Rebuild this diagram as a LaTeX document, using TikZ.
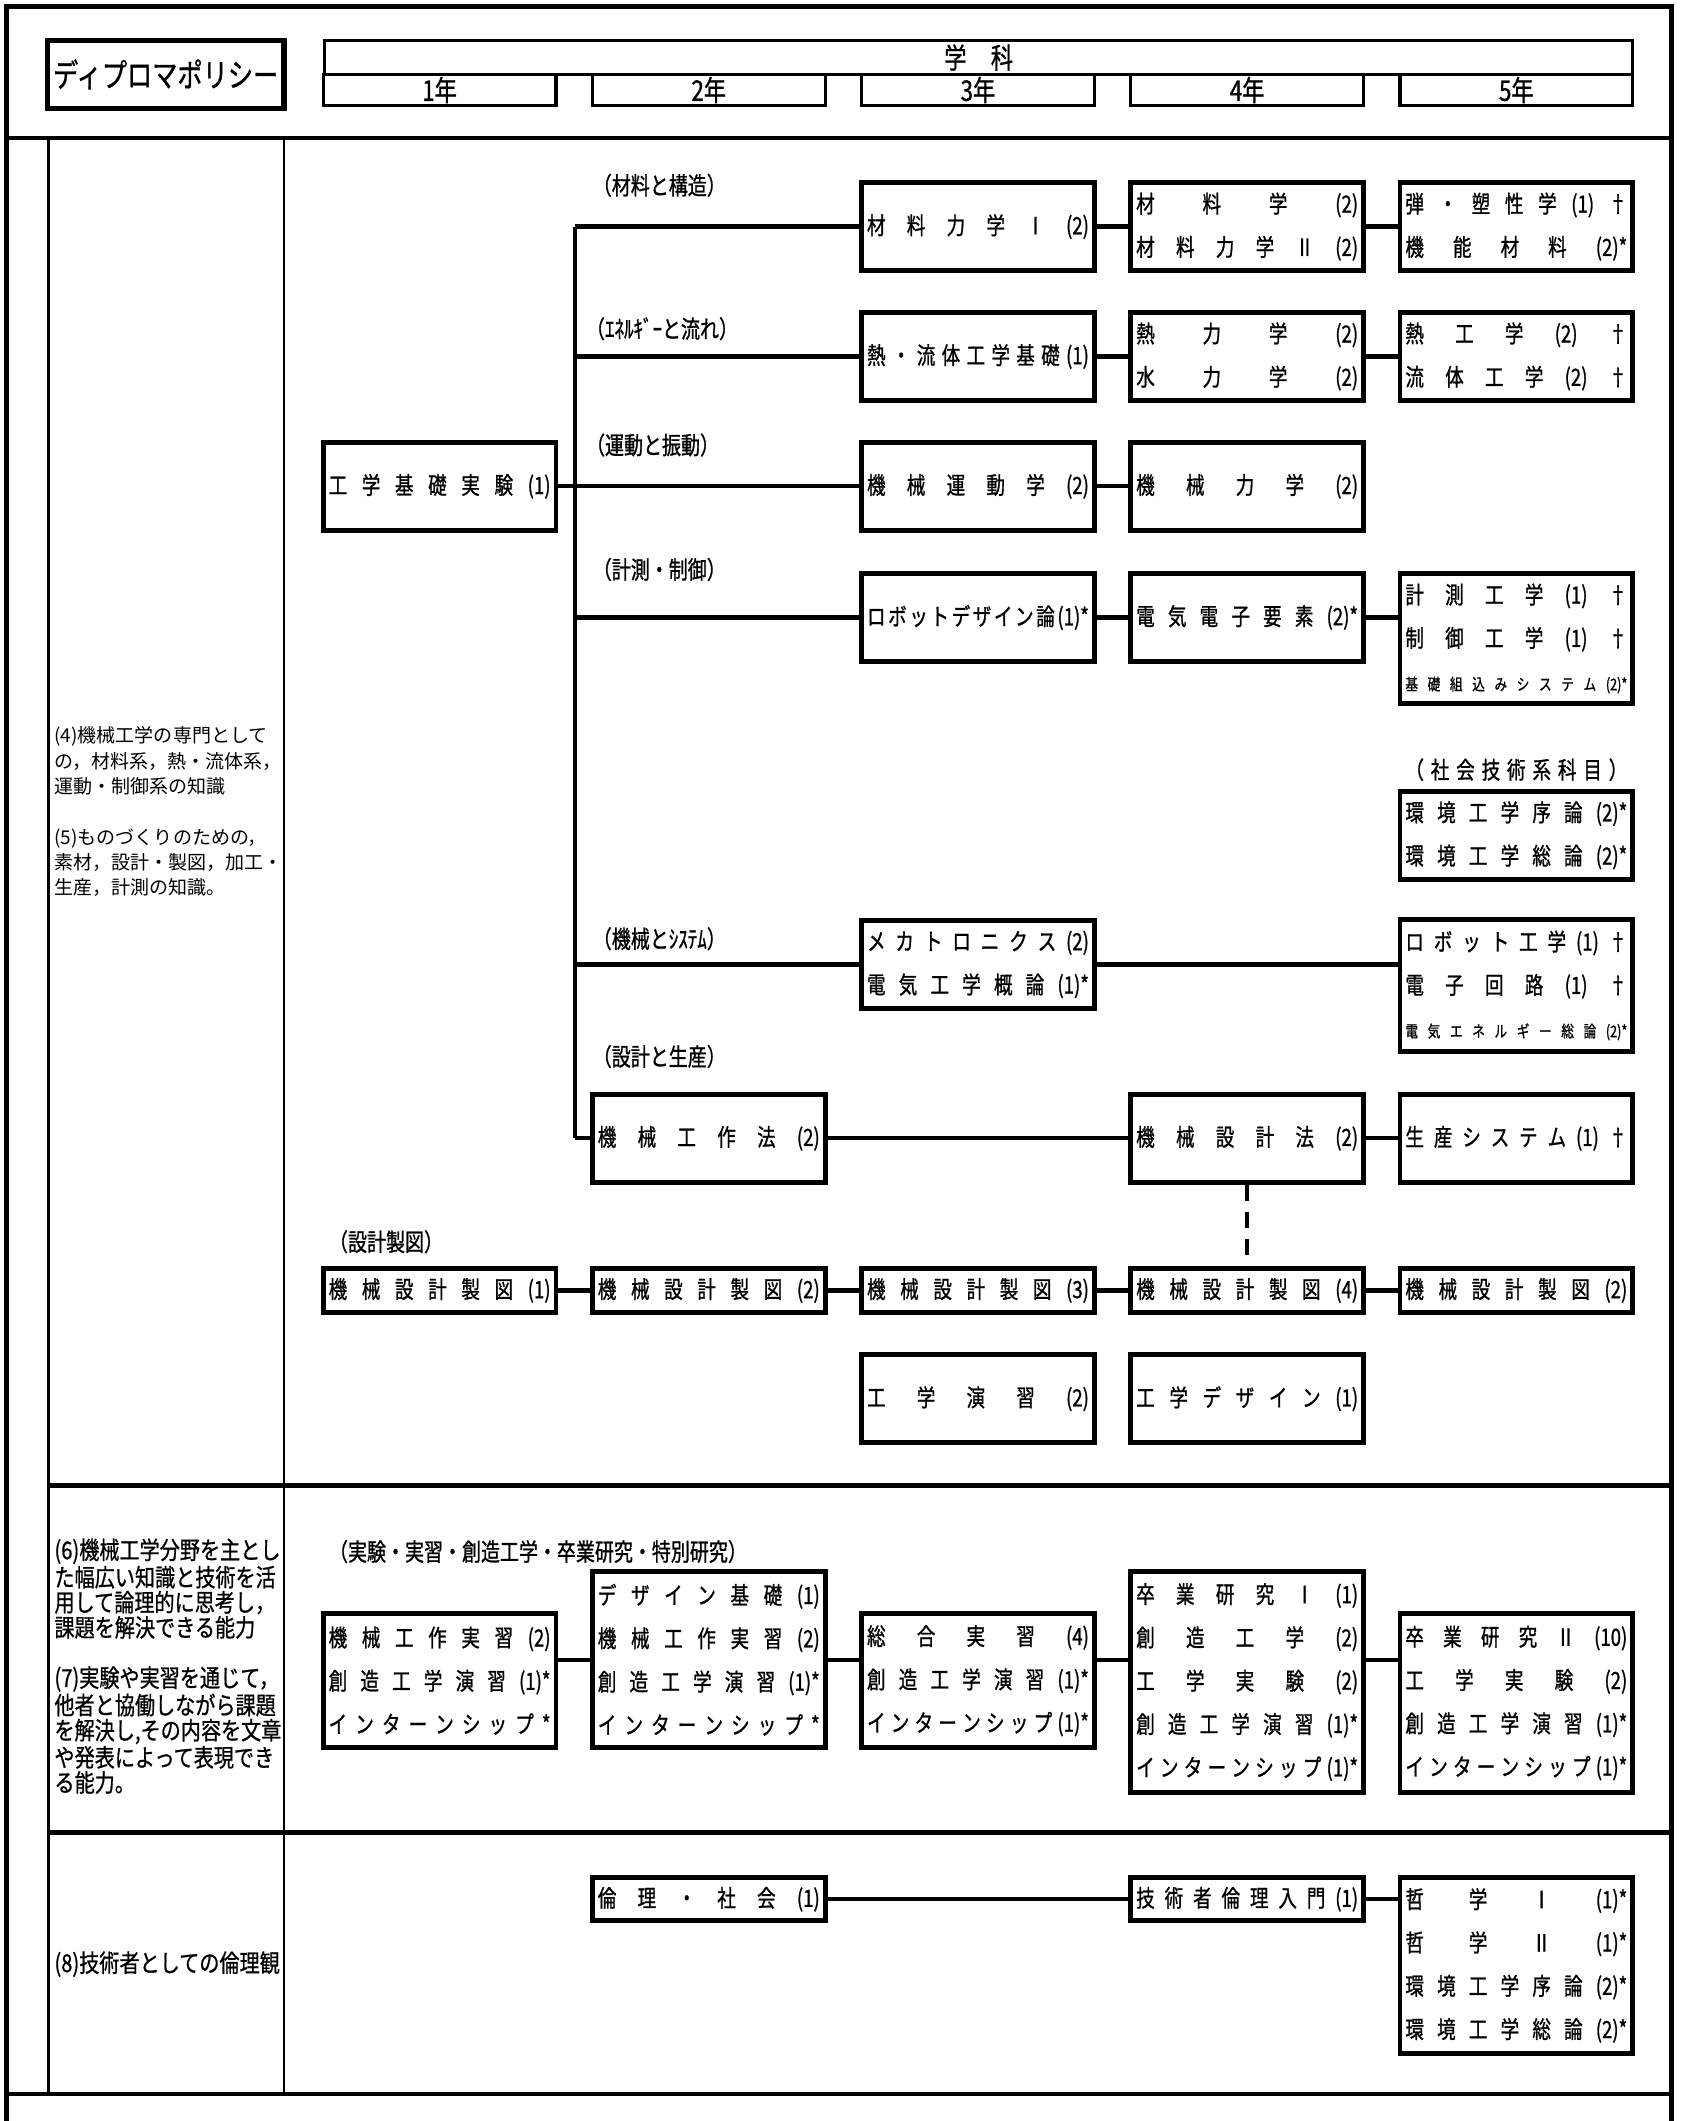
\documentclass[tikz,border=0pt]{standalone}
\usepackage{fontspec}
\newfontfamily\jpn{Noto Sans CJK JP}
\newfontfamily\jpnc[FakeStretch=0.78,FakeBold=1]{Noto Sans CJK JP}
\newfontfamily\jpnm[FakeStretch=0.82,FakeBold=0.8]{Noto Sans CJK JP}
\newcommand\kamokufont{\jpnc\fontsize{12.5}{22.76}\selectfont}
\newcommand\minifont{\fontsize{8.5}{10}\selectfont}
\newcommand\kamoku[1]{\makebox[4.1cm][s]{\spaceskip=0.01pt plus 1fil\relax #1}}
\setlength\parindent{0pt}

\begin{document}
\begin{tikzpicture}[x=0.025cm, y=-0.025cm,
  course/.style={draw, line width=2.6pt, minimum width=4.3cm, text width=4.1cm,
    inner xsep=0.1cm, inner ysep=0pt, align=left, font=\kamokufont},
  tall/.style={minimum height=1.625cm},
  flat/.style={minimum height=0.8cm},
  area/.style={anchor=west, inner sep=0pt, font=\jpnc\fontsize{12.8}{15}\selectfont},
  link/.style={line width=2.2pt},
  policy/.style={anchor=north west, inner sep=0pt, align=left},
  outline/.style={line width=2.6pt},
  gridline/.style={line width=1.3pt},
  yearbox/.style={draw, line width=1.6pt, inner sep=0pt, font=\jpnc\fontsize{15}{17}\selectfont}]
  \useasboundingbox (0,0) rectangle (1243,1568);

  % Frame and table rules
  \draw[outline] (5,1568) -- (5,5) -- (1236,5) -- (1236,1568);
  \draw[outline] (5,102) -- (1236,102);
  \draw[outline] (36,1098) -- (1236,1098);
  \draw[outline] (36,1355) -- (1236,1355);
  \draw[outline] (5,1548) -- (1236,1548);
  \draw[gridline] (36,102) -- (36,1548);
  \draw[gridline] (210,102) -- (210,1548);

  % Header
  \node[draw, line width=2.8pt, minimum width=4.375cm, minimum height=1.25cm, inner sep=0pt,
        font=\jpnc\fontsize{17}{18}\selectfont] (dp) at (122.5,55) {ディプロマポリシー};
  \node[yearbox, minimum width=24.175cm, minimum height=0.625cm] (gakka) at (723.5,42.5) {学\hspace{0.45cm}科};
  \foreach \n/\x in {1/325,2/524,3/723,4/922,5/1121}
    \node[yearbox, minimum width=4.3cm, minimum height=0.575cm] (yr\n) at (\x,66.5) {{\n}年};

  % Policies
  \node[policy, font=\jpn\fontsize{10}{13.3}\selectfont] (pol45) at (40,537)
    {(4)機械工学の専門として\\の，材料系，熱・流体系，\\運動・制御系の知識\\[13.3pt]
     (5)ものづくりのための，\\素材，設計・製図，加工・\\生産，計測の知識。};
  \node[policy, font=\jpnm\fontsize{12.9}{13.2}\selectfont] (pol67) at (40,1137)
    {(6)機械工学分野を主とし\\た幅広い知識と技術を活\\用して論理的に思考し，\\課題を解決できる能力\\[13.2pt]
     (7)実験や実習を通じて，\\他者と協働しながら課題\\を解決し,その内容を文章\\や発表によって表現でき\\る能力。};
  \node[anchor=west, inner sep=0pt, font=\jpnm\fontsize{12.9}{14}\selectfont] (pol8) at (40,1452) {(8)技術者としての倫理観};

  % Area labels
  \node[area] (lZai) at (438,137) {（材料と構造）};
  \node[area] (lEne) at (433,243) {（ｴﾈﾙｷﾞｰと流れ）};
  \node[area] (lUnd) at (433,329) {（運動と振動）};
  \node[area] (lKei) at (438,421) {（計測・制御）};
  \node[area] (lSys) at (438,694) {（機械とｼｽﾃﾑ）};
  \node[area] (lSei) at (438,781) {（設計と生産）};
  \node[area] (lZu)  at (243,918) {（設計製図）};
  \node[area] (lJis) at (243,1147) {（実験・実習・創造工学・卒業研究・特別研究）};
  \node[inner sep=0pt, font=\kamokufont] (lSha) at (1121,569) {\kamoku{（ 社 会 技 術 系 科 目 ）}};

  % Row 1: materials
  \node[course, tall] (zai3) at (723,167.5) {\kamoku{材 料 力 学 Ⅰ (2)}};
  \node[course, tall] (zai4) at (922,167.5) {\kamoku{材 料 学 (2)}\\\kamoku{材 料 力 学 Ⅱ (2)}};
  \node[course, tall] (zai5) at (1121,167.5) {\kamoku{弾 ・ 塑 性 学 (1) †}\\\kamoku{機 能 材 料 (2)*}};
  % Row 2: energy and flow
  \node[course, tall] (ene3) at (723,263.5) {\kamoku{熱 ・ 流 体 工 学 基 礎 (1)}};
  \node[course, tall] (ene4) at (922,263.5) {\kamoku{熱 力 学 (2)}\\\kamoku{水 力 学 (2)}};
  \node[course, tall] (ene5) at (1121,263.5) {\kamoku{熱 工 学 (2) †}\\\kamoku{流 体 工 学 (2) †}};
  % Row 3: motion
  \node[course, tall] (kiso) at (325,359.5) {\kamoku{工 学 基 礎 実 験 (1)}};
  \node[course, tall] (und3) at (723,359.5) {\kamoku{機 械 運 動 学 (2)}};
  \node[course, tall] (und4) at (922,359.5) {\kamoku{機 械 力 学 (2)}};
  % Row 4: measurement and control
  \node[course, tall] (kei3) at (723,456.5) {\kamoku{ロ ボ ッ ト デ ザ イ ン 論 (1)*}};
  \node[course, tall] (kei4) at (922,456.5) {\kamoku{電 気 電 子 要 素 (2)*}};
  \node[course, minimum height=2.4cm] (kei5) at (1121,472)
    {\kamoku{計 測 工 学 (1) †}\\\kamoku{制 御 工 学 (1) †}\\\kamoku{\minifont 基 礎 組 込 み シ ス テ ム (2)*}};
  % Social technology
  \node[course, tall] (kan5) at (1121,617.5) {\kamoku{環 境 工 学 序 論 (2)*}\\\kamoku{環 境 工 学 総 論 (2)*}};
  % Row 5: machines and systems
  \node[course, tall] (sys3) at (723,713) {\kamoku{メ カ ト ロ ニ ク ス (2)}\\\kamoku{電 気 工 学 概 論 (1)*}};
  \node[course, minimum height=2.425cm] (sys5) at (1121,728.5)
    {\kamoku{ロ ボ ッ ト 工 学 (1) †}\\\kamoku{電 子 回 路 (1) †}\\\kamoku{\minifont 電 気 エ ネ ル ギ ー 総 論 (2)*}};
  % Row 6: design and production
  \node[course, tall] (sei2) at (524,841.5) {\kamoku{機 械 工 作 法 (2)}};
  \node[course, tall] (sei4) at (922,841.5) {\kamoku{機 械 設 計 法 (2)}};
  \node[course, tall] (sei5) at (1121,841.5) {\kamoku{生 産 シ ス テ ム (1) †}};
  % Row 7: drafting
  \foreach \n/\x/\k in {1/325/1,2/524/2,3/723/3,4/922/4,5/1121/2}
    \node[course, flat] (zu\n) at (\x,954) {\kamoku{機 械 設 計 製 図 ({\k})}};
  \node[course, tall] (ens3) at (723,1034) {\kamoku{工 学 演 習 (2)}};
  \node[course, tall] (des4) at (922,1034) {\kamoku{工 学 デ ザ イ ン (1)}};

  % Experiments and research
  \node[course, minimum height=2.475cm] (jis1) at (325,1242.5)
    {\kamoku{機 械 工 作 実 習 (2)}\\\kamoku{創 造 工 学 演 習 (1)*}\\\kamoku{イ ン タ ー ン シ ッ プ *}};
  \node[course, minimum height=3.25cm] (jis2) at (524,1227)
    {\kamoku{デ ザ イ ン 基 礎 (1)}\\\kamoku{機 械 工 作 実 習 (2)}\\\kamoku{創 造 工 学 演 習 (1)*}\\\kamoku{イ ン タ ー ン シ ッ プ *}};
  \node[course, minimum height=2.475cm] (jis3) at (723,1242.5)
    {\kamoku{総 合 実 習 (4)}\\\kamoku{創 造 工 学 演 習 (1)*}\\\kamoku{イ ン タ ー ン シ ッ プ (1)*}};
  \node[course, minimum height=4.075cm] (jis4) at (922,1243.5)
    {\kamoku{卒 業 研 究 Ⅰ (1)}\\\kamoku{創 造 工 学 (2)}\\\kamoku{工 学 実 験 (2)}\\\kamoku{創 造 工 学 演 習 (1)*}\\\kamoku{イ ン タ ー ン シ ッ プ (1)*}};
  \node[course, minimum height=3.3cm] (jis5) at (1121,1259)
    {\kamoku{卒 業 研 究 Ⅱ (10)}\\\kamoku{工 学 実 験 (2)}\\\kamoku{創 造 工 学 演 習 (1)*}\\\kamoku{イ ン タ ー ン シ ッ プ (1)*}};

  % Ethics
  \node[course, flat] (rin2) at (524,1404) {\kamoku{倫 理 ・ 社 会 (1)}};
  \node[course, flat] (rin4) at (922,1404) {\kamoku{技 術 者 倫 理 入 門 (1)}};
  \node[course, minimum height=3.25cm] (rin5) at (1121,1453)
    {\kamoku{哲 学 Ⅰ (1)*}\\\kamoku{哲 学 Ⅱ (1)*}\\\kamoku{環 境 工 学 序 論 (2)*}\\\kamoku{環 境 工 学 総 論 (2)*}};

  % Trunk
  \coordinate (tZai) at (425,167.5);
  \coordinate (tEne) at (425,263.5);
  \coordinate (tKei) at (425,456.5);
  \coordinate (tSys) at (425,713);
  \coordinate (tSei) at (425,841.5);
  \draw[link, line width=1.7pt] (tZai) -- (tSei);

  % Connectors
  \draw[link] (tZai) -- (zai3.west);
  \draw[link] (zai3) -- (zai4);
  \draw[link] (zai4) -- (zai5);
  \draw[link] (tEne) -- (ene3.west);
  \draw[link] (ene3) -- (ene4);
  \draw[link] (ene4) -- (ene5);
  \draw[link] (kiso) -- (und3);
  \draw[link] (und3) -- (und4);
  \draw[link] (tKei) -- (kei3.west);
  \draw[link] (kei3) -- (kei4);
  \draw[link] (kei4.east) -- (kei4.east -| kei5.west);
  \draw[link] (tSys) -- (sys3.west);
  \draw[link] (sys3.east) -- (sys3.east -| sys5.west);
  \draw[link] (tSei) -- (sei2.west);
  \draw[link] (sei2) -- (sei4);
  \draw[link] (sei4) -- (sei5);
  \draw[link, dash pattern=on 0.3cm off 0.2cm] (sei4) -- (zu4);
  \foreach \a/\b in {1/2,2/3,3/4,4/5}
    \draw[link] (zu\a) -- (zu\b);
  \draw[link] (jis2.west -| jis1.east) -- (jis2.west);
  \draw[link] (jis2.east) -- (jis2.east -| jis3.west);
  \draw[link] (jis2.east -| jis3.east) -- (jis2.east -| jis4.west);
  \draw[link] (jis2.east -| jis4.east) -- (jis2.east -| jis5.west);
  \draw[link] (rin2) -- (rin4);
  \draw[link] (rin4.east) -- (rin4.east -| rin5.west);
\end{tikzpicture}
\end{document}
